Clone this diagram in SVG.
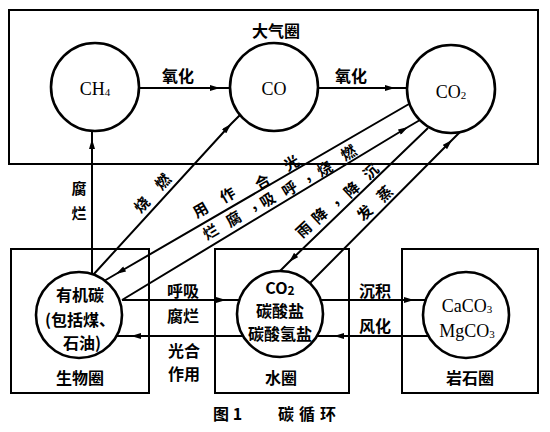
<svg xmlns="http://www.w3.org/2000/svg" width="550" height="432" viewBox="0 0 550 432">
<style>
.box{fill:none;stroke:#000;stroke-width:2}
.node{fill:#fff;stroke:#000;stroke-width:2.6}
.cn{fill:#000;font-family:"Noto Sans CJK SC","Noto Sans",sans-serif;font-weight:700;font-size:16px;text-anchor:middle;dominant-baseline:central}
.dg{fill:#000;font-family:"Noto Sans CJK SC","Noto Sans",sans-serif;font-weight:700;font-size:15px;text-anchor:middle;dominant-baseline:central}
.fm{fill:#000;font-family:"Liberation Serif","Times New Roman",serif;font-size:18px;text-anchor:middle;dominant-baseline:central}
.edge{fill:none;stroke:#000;stroke-width:2;marker-mid:url(#ah)}
</style>
<defs>
<marker id="ah" viewBox="0 0 10 6" refX="10" refY="3" markerWidth="11" markerHeight="6" markerUnits="userSpaceOnUse" orient="auto"><path d="M0,0 L10,3 L0,6 z" fill="#000"/></marker>
</defs>
<rect fill="#fff" x="0" y="0" width="550" height="432"/>

<g id="atmosphere">
<rect class="box" x="9" y="10" width="529" height="154"/>
<text class="cn" x="276" y="30">大气圈</text>
</g>
<g id="biosphere">
<rect class="box" x="11" y="249" width="138" height="144"/>
<text class="cn" x="80" y="377">生物圈</text>
</g>
<g id="hydrosphere">
<rect class="box" x="215" y="249" width="134" height="144"/>
<text class="cn" x="281" y="377">水圈</text>
</g>
<g id="lithosphere">
<rect class="box" x="402" y="249" width="136" height="144"/>
<text class="cn" x="470" y="377">岩石圈</text>
</g>

<g id="connectors">
<path class="edge" d="M139,88 L220,88 L230,88"/>
<path class="edge" d="M318,88 L395,88 L407,88"/>
<path class="edge" d="M92,275 L92,139 L92,131"/>
<path class="edge" d="M93,275 L231,124 L240,115"/>
<path class="edge" d="M409,104 L116,274 L104,281"/>
<path class="edge" d="M122,300 L408,127 L420,120"/>
<path class="edge" d="M428,128 L289,262 L280,271"/>
<path class="edge" d="M310,283 L452,140 L460,132"/>
<path class="edge" d="M122,300 L226,300 L239,300"/>
<path class="edge" d="M243,336 L131,336 L117,336"/>
<path class="edge" d="M321,300 L414,300 L425,300"/>
<path class="edge" d="M429,336 L334,336 L317,336"/>
</g>

<g id="edge-labels">
<text class="cn" x="178" y="75">氧化</text>
<text class="cn" x="351" y="75">氧化</text>
<text class="dg" x="79" y="187">腐</text>
<text class="dg" x="79" y="212">烂</text>
<text class="cn" x="183" y="290">呼吸</text>
<text class="cn" x="183" y="315">腐烂</text>
<text class="cn" x="184" y="350">光合</text>
<text class="cn" x="184" y="373">作用</text>
<text class="cn" x="375" y="290">沉积</text>
<text class="cn" x="375" y="325">风化</text>
<text class="dg" transform="translate(162,181) rotate(-47)">燃</text>
<text class="dg" transform="translate(141,204) rotate(-47)">烧</text>
<text class="dg" transform="translate(291,162) rotate(-30)">光</text>
<text class="dg" transform="translate(262,181) rotate(-30)">合</text>
<text class="dg" transform="translate(227,194) rotate(-30)">作</text>
<text class="dg" transform="translate(200,209) rotate(-30)">用</text>
<text class="dg" transform="translate(348,152) rotate(-31)">燃</text>
<text class="dg" transform="translate(324,168) rotate(-31)">烧</text>
<text class="dg" transform="translate(308,179) rotate(-31)" x="4" y="-4">，</text>
<text class="dg" transform="translate(289,188) rotate(-31)">呼</text>
<text class="dg" transform="translate(267,199) rotate(-31)">吸</text>
<text class="dg" transform="translate(254,208) rotate(-31)" x="4" y="-4">，</text>
<text class="dg" transform="translate(233,218) rotate(-31)">腐</text>
<text class="dg" transform="translate(210,231) rotate(-31)">烂</text>
<text class="dg" transform="translate(370,171) rotate(-43)">沉</text>
<text class="dg" transform="translate(351,189) rotate(-43)">降</text>
<text class="dg" transform="translate(336,203) rotate(-43)" x="4" y="-4">，</text>
<text class="dg" transform="translate(319,215) rotate(-43)">降</text>
<text class="dg" transform="translate(303,229) rotate(-43)">雨</text>
<text class="dg" transform="translate(384,193) rotate(-45)">蒸</text>
<text class="dg" transform="translate(364,212) rotate(-45)">发</text>
</g>

<g id="ch4">
<circle class="node" cx="95" cy="87" r="44"/>
<text class="fm" x="95" y="89">CH<tspan font-size="11" dy="3">4</tspan></text>
</g>
<g id="co">
<circle class="node" cx="274" cy="87" r="44"/>
<text class="fm" x="274" y="89">CO</text>
</g>
<g id="co2">
<circle class="node" cx="451" cy="89" r="44"/>
<text class="fm" x="451" y="92">CO<tspan font-size="11" dy="3">2</tspan></text>
</g>
<g id="organic-carbon">
<circle class="node" cx="79" cy="315" r="43"/>
<text class="cn" x="80" y="294" font-size="17">有机碳</text>
<text class="cn" x="80" y="319" font-size="17">(包括煤、</text>
<text class="cn" x="82" y="342" font-size="17">石油)</text>
</g>
<g id="water-carbon">
<circle class="node" cx="280" cy="314" r="43"/>
<text class="cn" x="280" y="287" font-size="18" font-family="Liberation Sans, sans-serif">CO<tspan font-size="12" dy="2">2</tspan></text>
<text class="cn" x="280" y="310">碳酸盐</text>
<text class="cn" x="280" y="333">碳酸氢盐</text>
</g>
<g id="rock-carbon">
<circle class="node" cx="466" cy="315" r="43"/>
<text class="fm" x="467" y="306">CaCO<tspan font-size="11" dy="3">3</tspan></text>
<text class="fm" x="467" y="331">MgCO<tspan font-size="11" dy="3">3</tspan></text>
</g>

<g id="caption">
<text class="cn" x="213" y="413" font-size="17" style="text-anchor:start">图 1</text>
<text class="cn" x="278" y="413" font-size="17" letter-spacing="5" style="text-anchor:start">碳循环</text>
</g>
</svg>
